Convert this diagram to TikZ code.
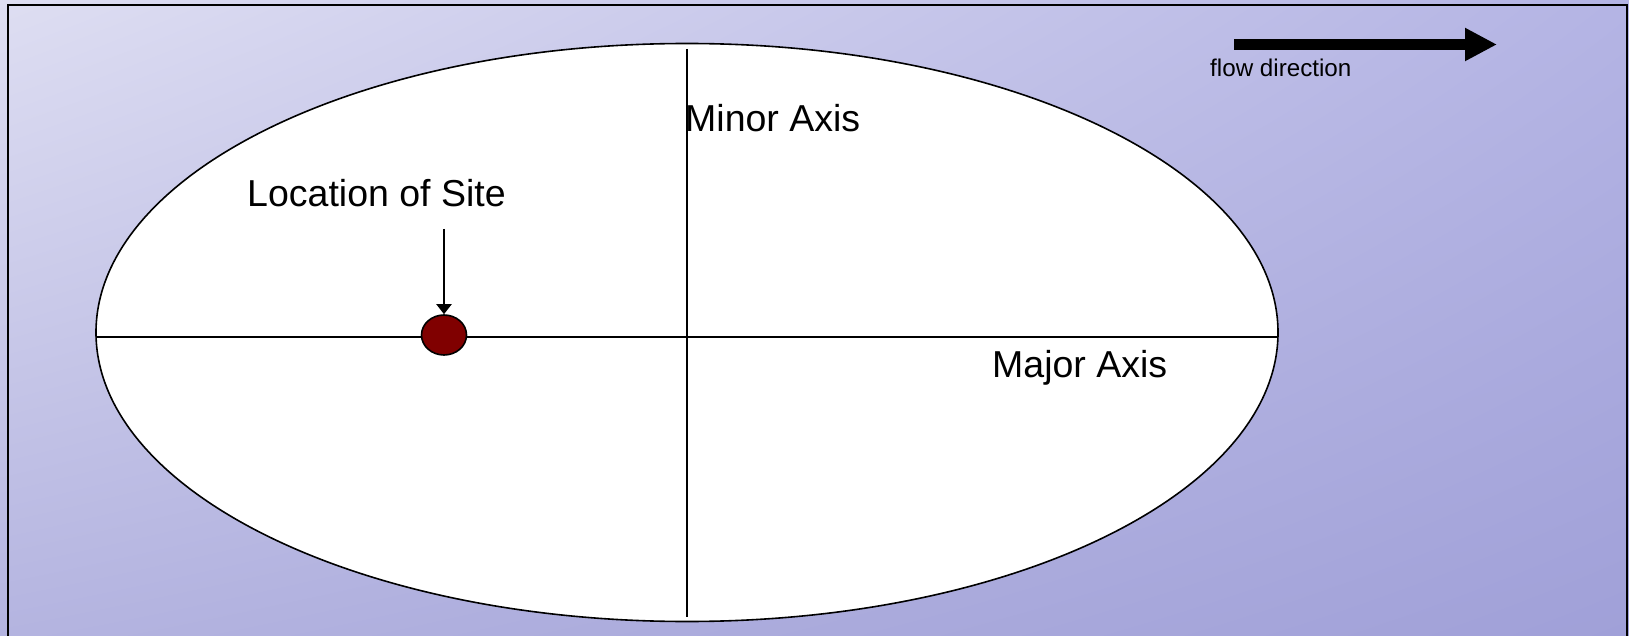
\documentclass[tikz,border=0pt]{standalone}
\usepackage{fontspec}
\setmainfont{Liberation Sans}
\usetikzlibrary{shapes.geometric,arrows.meta,positioning,shadings}
\definecolor{bgUL}{RGB}{222,222,242}
\definecolor{bgUR}{RGB}{180,180,228}
\definecolor{bgLL}{RGB}{180,180,224}
\definecolor{bgLR}{RGB}{160,160,216}
\definecolor{sitered}{RGB}{128,0,0}

\begin{document}
\begin{tikzpicture}[
    x=1pt, y=-1pt,
    axis/.style={line width=1.6pt},
    label/.style={inner sep=0pt, anchor=base west, font=\fontsize{37.5}{40}\selectfont},
    pointer/.style={-{Triangle[length=10pt,width=15pt]}, line width=2pt},
    flowarrow/.style={-{Triangle[length=32pt,width=31pt]}, line width=11pt}
]
\useasboundingbox (0,0) rectangle (1629,636);
% background
\shade[upper left=bgUL, upper right=bgUR, lower left=bgLL, lower right=bgLR]
    (0,0) rectangle (1629,636);
\draw[line width=2.2pt] (8,645) -- (8,5) -- (1627,5) -- (1627,645);

% the field
\node (field) [ellipse, draw, fill=white, line width=1.6pt, inner sep=0pt,
    minimum width=1182pt, minimum height=578pt] at (687,332.5) {};
\coordinate (majW) at (96,337);
\coordinate (majE) at (1278,337);
\coordinate (minN) at (687,49);
\coordinate (minS) at (687,617);
\draw[axis] (majW) -- (majE);
\draw[axis] (minN) -- (minS);

\node (site) [ellipse, draw, fill=sitered, line width=1.6pt,
    minimum width=45pt, minimum height=40pt, inner sep=0pt] at (444,335) {};

\node (minorlbl) [label] at (685,132) {Minor Axis};
\node (majorlbl) [label] at (992,377) {Major Axis};
\node (sitelbl) [label] at (247,207) {Location of Site};
\coordinate (ptr) at (444,229);
\draw[pointer] (ptr) -- (site.north);

% flow
\coordinate (flowA) at (1234,44.5);
\coordinate (flowB) at (1497,44.5);
\draw[flowarrow] (flowA) -- (flowB);
\node (flowlbl) [label, font=\fontsize{24.2}{26}\selectfont] at (1210,77) {flow direction};
\end{tikzpicture}
\end{document}
